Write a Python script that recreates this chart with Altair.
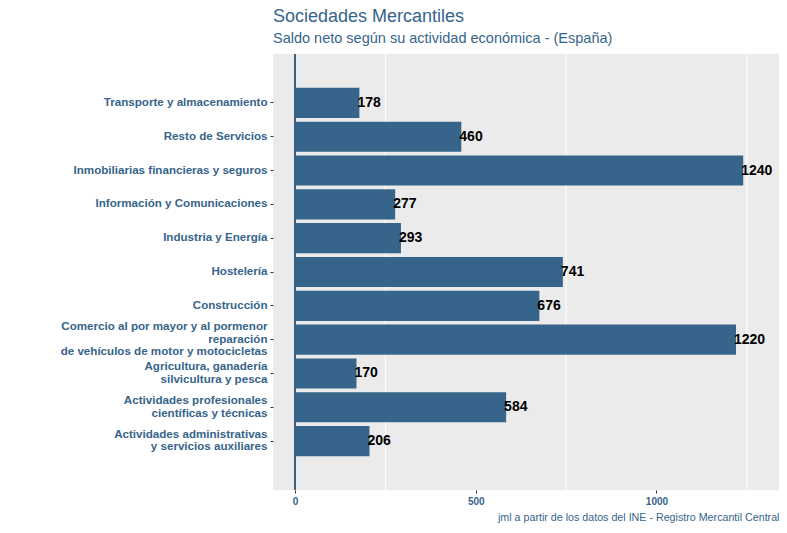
import altair as alt
import pandas as pd

categories = [
    "Transporte y almacenamiento",
    "Resto de Servicios",
    "Inmobiliarias financieras y seguros",
    "Información y Comunicaciones",
    "Industria y Energía",
    "Hostelería",
    "Construcción",
    "Comercio al por mayor y al pormenor\nreparación\nde vehículos de motor y motocicletas",
    "Agricultura, ganadería\nsilvicultura y pesca",
    "Actividades profesionales\ncientíficas y técnicas",
    "Actividades administrativas\u00a0\ny servicios auxiliares",
]
values = [178, 460, 1240, 277, 293, 741, 676, 1220, 170, 584, 206]
x_ticks = [0, 500, 1000]
minor_grid = [250, 750, 1250]

BLUE = "#36648B"
FONT = "Liberation Sans"
LINE_H = 12.5

df = pd.DataFrame({"actividad": categories, "saldo": values})
grid_df = pd.DataFrame({"g": minor_grid})

xscale = alt.Scale(domain=[-61, 1339], nice=False, zero=False)
yscale = alt.Scale(paddingInner=0.11, paddingOuter=1)

grid = alt.Chart(grid_df).mark_rule(color="white", strokeWidth=1).encode(
    x=alt.X("g:Q", scale=xscale)
)

label_offset = {
    "condition": [
        {"test": "length(split(datum.value, '\\n')) == 3", "value": -LINE_H},
        {"test": "length(split(datum.value, '\\n')) == 2", "value": -LINE_H / 2},
    ],
    "value": 0,
}

bars = alt.Chart(df).mark_bar(color=BLUE).encode(
    x=alt.X(
        "saldo:Q",
        scale=xscale,
        axis=alt.Axis(
            values=x_ticks,
            format="d",
            grid=False,
            domain=False,
            tickSize=3,
            tickColor="#333333",
            labelColor=BLUE,
            labelFontWeight="bold",
            labelFontSize=10,
            labelFont=FONT,
            labelPadding=3,
            title="jml a partir de los datos del INE - Registro Mercantil Central",
            titleAnchor="end",
            titleFontWeight="normal",
            titleFontSize=10.7,
            titleFont=FONT,
            titleColor=BLUE,
            titlePadding=6,
        ),
    ),
    y=alt.Y(
        "actividad:N",
        sort=categories,
        scale=yscale,
        axis=alt.Axis(
            title=None,
            grid=False,
            domain=False,
            tickSize=3,
            tickColor="#333333",
            labelColor=BLUE,
            labelFontWeight="bold",
            labelFontSize=11.6,
            labelFont=FONT,
            labelPadding=3,
            labelBaseline="middle",
            labelLineHeight=LINE_H,
            labelOffset=label_offset,
            labelExpr="split(datum.label, '\\n')",
            labelLimit=400,
        ),
    ),
)

labels = alt.Chart(df).mark_text(
    align="left", baseline="middle", dx=-2, fontSize=14, fontWeight="bold",
    color="black", font=FONT
).encode(
    x=alt.X("saldo:Q", scale=xscale),
    y=alt.Y("actividad:N", sort=categories, scale=yscale),
    text=alt.Text("saldo:Q"),
)

vline = alt.Chart(df).mark_rule(color=BLUE, strokeWidth=1.5).encode(
    x=alt.datum(0, scale=xscale)
)

chart = alt.layer(grid, bars, vline, labels).properties(
    width=506,
    height=436,
    padding={"left": 273, "top": 54, "right": 8, "bottom": 43},
    autosize=alt.AutoSizeParams(type="none"),
    background="white",
    title=alt.TitleParams(
        text="Sociedades Mercantiles",
        subtitle="Saldo neto según su actividad económica - (España)",
        anchor="start",
        frame="group",
        font=FONT,
        fontSize=18,
        fontWeight="normal",
        color=BLUE,
        subtitleFont=FONT,
        subtitleFontSize=14.5,
        subtitleColor=BLUE,
        subtitlePadding=6,
        offset=8,
    ),
).configure_view(fill="#EBEBEB", stroke=None)

chart.save("out.html", embed_options={"renderer": "svg", "actions": False})
